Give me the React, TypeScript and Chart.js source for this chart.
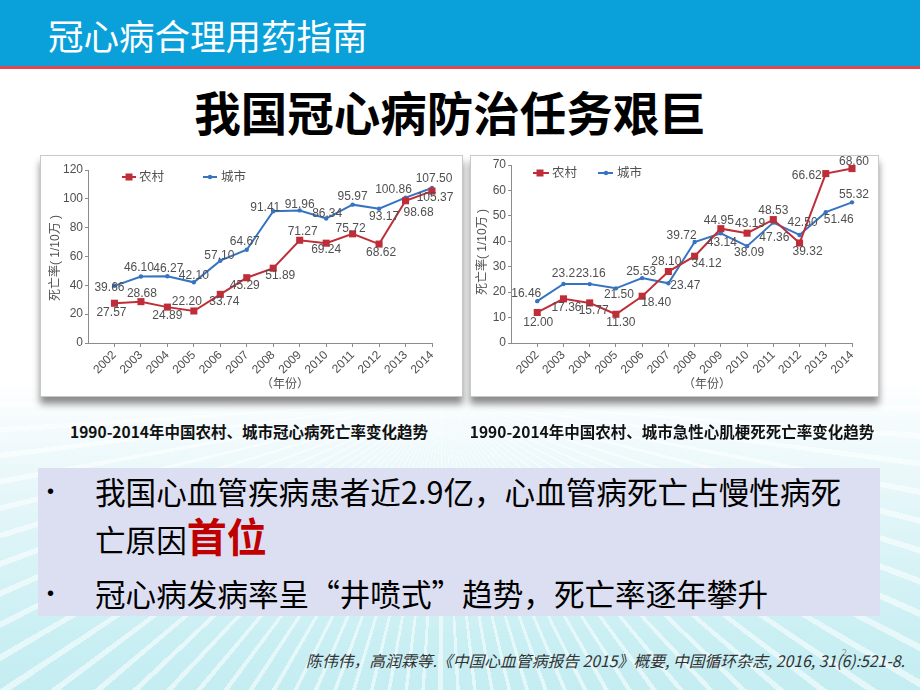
import React, { useEffect, useRef } from "react";
import { Chart, registerables } from "chart.js";

Chart.register(...registerables);

// ---------------- data ----------------
const years = [2002, 2003, 2004, 2005, 2006, 2007, 2008, 2009, 2010, 2011, 2012, 2013, 2014];
const seriesNames = ["农村", "城市"];

// 冠心病死亡率 (1/10万)
const chdRural = ["27.57", "28.68", "24.89", "22.20", "33.74", "45.29", "51.89", "71.27", "69.24", "75.72", "68.62", "98.68", "105.37"];
const chdUrban = ["39.66", "46.10", "46.27", "42.10", "57.10", "64.67", "91.41", "91.96", "86.34", "95.97", "93.17", "100.86", "107.50"];
const chdYTicks = [0, 20, 40, 60, 80, 100, 120];

// 急性心肌梗死死亡率 (1/10万)
const amiRural = ["12.00", "17.36", "15.77", "11.30", "18.40", "28.10", "34.12", "44.95", "43.19", "48.53", "39.32", "66.62", "68.60"];
const amiUrban = ["16.46", "23.2", "23.16", "21.50", "25.53", "23.47", "39.72", "43.14", "38.09", "47.36", "42.50", "51.46", "55.32"];
const amiYTicks = [0, 10, 20, 30, 40, 50, 60, 70];

const yAxisTitle = "死亡率( 1/10万 )";
const xAxisTitle = "（年份）";

const headerTitle = "冠心病合理用药指南";
const slideTitle = "我国冠心病防治任务艰巨";
const caption1 = "1990-2014年中国农村、城市冠心病死亡率变化趋势";
const caption2 = "1990-2014年中国农村、城市急性心肌梗死死亡率变化趋势";
const bullet1a = "我国心血管疾病患者近2.9亿，心血管病死亡占慢性病死";
const bullet1b = "亡原因";
const bullet1c = "首位";
const bullet2 = "冠心病发病率呈“井喷式”趋势，死亡率逐年攀升";
const citation = "陈伟伟，高润霖等.《中国心血管病报告 2015》概要, 中国循环杂志, 2016, 31(6):521-8.";

// data-label placement (dx, dy in px relative to the point)
const chdRuralOff: [number, number][] = [[-3, 9], [1, -8], [0, 9], [-7, -9], [4, 7], [-2, 8], [7, 7], [3, -9], [0, 7], [-2, -5], [2, 9], [13, 12], [3, 7]];
const chdUrbanOff: [number, number][] = [[-5, 2], [-2, -9], [1, -8], [0, -7], [-1, -5], [-2, -8], [-8, -4], [0, -6], [1, -5], [0, -8], [5, 8], [-12, -8], [2, -9]];
const amiRuralOff: [number, number][] = [[1, 10], [3, 9], [4, 8], [5, 8], [14, 6], [-2, -10], [12, 7], [-2, -8], [3, -9], [0, -9], [8, 9], [-19, 2], [2, -7]];
const amiUrbanOff: [number, number][] = [[-11, -7], [0, -10], [1, -10], [3, 6], [-1, -6], [17, 2], [-13, -6], [1, 9], [2, 7], [1, 15], [3, -12], [13, 8], [2, -8]];

// ---------------- styles ----------------
const RED = "#bf2e38";
const BLUE = "#3674c2";
const AXIS = "#8c8c8c";
const TEXT = "#505050";
const FONT = '"Liberation Sans", "Noto Sans CJK SC", sans-serif';
const CJK = '"Noto Sans CJK SC", sans-serif';

type Off = [number, number][];
interface Spec {
  rural: string[];
  urban: string[];
  yTicks: number[];
  ruralOff: Off;
  urbanOff: Off;
  width: number;
  height: number;
  area: { left: number; top: number; right: number; bottom: number };
  legendY: number;
  legend: { x0: number; x1: number; mx: number; tx: number }[];
  yTitle: { x: number; y: number };
  xTitle: { x: number; y: number };
}

const chdSpec: Spec = {
  rural: chdRural,
  urban: chdUrban,
  yTicks: chdYTicks,
  ruralOff: chdRuralOff,
  urbanOff: chdUrbanOff,
  width: 425,
  height: 242,
  area: { left: 48, top: 15, right: 392, bottom: 188 },
  legendY: 22,
  legend: [
    { x0: 82, x1: 96, mx: 89, tx: 99 },
    { x0: 163, x1: 177, mx: 170, tx: 181 },
  ],
  yTitle: { x: 16, y: 103 },
  xTitle: { x: 245, y: 230 },
};

const amiSpec: Spec = {
  rural: amiRural,
  urban: amiUrban,
  yTicks: amiYTicks,
  ruralOff: amiRuralOff,
  urbanOff: amiUrbanOff,
  width: 410,
  height: 242,
  area: { left: 41, top: 10, right: 382, bottom: 188 },
  legendY: 18,
  legend: [
    { x0: 63, x1: 79, mx: 70, tx: 82 },
    { x0: 128, x1: 143, mx: 136, tx: 147 },
  ],
  yTitle: { x: 13, y: 97 },
  xTitle: { x: 237, y: 230 },
};

function overlayPlugin(s: Spec) {
  return {
    id: "overlay",
    afterDatasetsDraw(chart: any) {
      const ctx = chart.ctx as CanvasRenderingContext2D;
      ctx.save();
      ctx.textAlign = "center";
      ctx.textBaseline = "middle";
      ctx.font = `12px ${FONT}`;
      ctx.fillStyle = TEXT;
      const texts = [s.rural, s.urban];
      const offs = [s.ruralOff, s.urbanOff];
      chart.data.datasets.forEach((_: any, di: number) => {
        chart.getDatasetMeta(di).data.forEach((el: any, i: number) => {
          const [dx, dy] = offs[di][i];
          ctx.fillText(texts[di][i], el.x + dx, el.y + dy);
        });
      });
      // legend
      ctx.font = `12.5px ${FONT}`;
      ctx.textAlign = "left";
      s.legend.forEach((it, di) => {
        const col = chart.data.datasets[di].borderColor;
        const y = s.legendY;
        ctx.strokeStyle = col;
        ctx.lineWidth = 2;
        ctx.beginPath();
        ctx.moveTo(it.x0, y);
        ctx.lineTo(it.x1, y);
        ctx.stroke();
        ctx.fillStyle = col;
        if (di === 0) {
          ctx.fillRect(it.mx - 3.5, y - 3.5, 7, 7);
        } else {
          ctx.beginPath();
          ctx.arc(it.mx, y, 2.2, 0, Math.PI * 2);
          ctx.fill();
        }
        ctx.fillStyle = TEXT;
        ctx.fillText(seriesNames[di], it.tx, y + 0.5);
      });
      // axis titles
      ctx.textAlign = "center";
      ctx.font = `12px ${FONT}`;
      ctx.fillText(xAxisTitle, s.xTitle.x, s.xTitle.y);
      ctx.translate(s.yTitle.x, s.yTitle.y);
      ctx.rotate(-Math.PI / 2);
      ctx.fillText(yAxisTitle, 0, 0);
      ctx.restore();
    },
  };
}

function buildConfig(s: Spec): any {
  const yMin = s.yTicks[0];
  const yMax = s.yTicks[s.yTicks.length - 1];
  return {
    type: "line",
    data: {
      datasets: [
        {
          label: seriesNames[0],
          data: years.map((y, i) => ({ x: y, y: Number(s.rural[i]) })),
          borderColor: RED,
          backgroundColor: RED,
          borderWidth: 2,
          pointStyle: "rect",
          pointRadius: 5,
          pointBorderWidth: 0,
          tension: 0,
          clip: false,
        },
        {
          label: seriesNames[1],
          data: years.map((y, i) => ({ x: y, y: Number(s.urban[i]) })),
          borderColor: BLUE,
          backgroundColor: BLUE,
          borderWidth: 2,
          pointStyle: "circle",
          pointRadius: 2.2,
          pointBorderWidth: 0,
          tension: 0,
          clip: false,
        },
      ],
    },
    options: {
      responsive: false,
      animation: false,
      events: [],
      layout: {
        padding: { top: s.area.top, right: s.width - s.area.right, left: 0, bottom: 0 },
      },
      plugins: {
        legend: { display: false },
        tooltip: { enabled: false },
        title: { display: false },
      },
      scales: {
        x: {
          type: "linear",
          min: years[0] - 1,
          max: years[years.length - 1],
          afterBuildTicks: (sc: any) => {
            sc.ticks = years.map((v) => ({ value: v }));
          },
          afterFit: (sc: any) => {
            sc.height = s.height - s.area.bottom;
          },
          border: { display: true, color: AXIS, width: 1 },
          grid: { display: true, drawOnChartArea: false, drawTicks: true, tickLength: 4, color: AXIS },
          ticks: {
            autoSkip: false,
            maxRotation: 45,
            minRotation: 45,
            padding: 1,
            color: TEXT,
            font: { family: FONT, size: 12 },
            callback: (v: any) => String(v),
          },
        },
        y: {
          type: "linear",
          min: yMin,
          max: yMax,
          afterBuildTicks: (sc: any) => {
            sc.ticks = s.yTicks.map((v) => ({ value: v }));
          },
          afterFit: (sc: any) => {
            sc.width = s.area.left;
          },
          border: { display: true, color: AXIS, width: 1 },
          grid: { display: true, drawOnChartArea: false, drawTicks: true, tickLength: 3, color: AXIS },
          ticks: {
            padding: 2,
            color: TEXT,
            font: { family: FONT, size: 12 },
            callback: (v: any) => String(v),
          },
        },
      },
    },
    plugins: [overlayPlugin(s)],
  };
}

function ChartPanel(props: { spec: Spec; left: number; top: number; frameW: number }) {
  const ref = useRef<HTMLCanvasElement | null>(null);
  useEffect(() => {
    if (!ref.current) return;
    const chart = new Chart(ref.current, buildConfig(props.spec));
    return () => chart.destroy();
  }, []);
  const { spec, left, top, frameW } = props;
  return (
    <>
      <div
        style={{
          position: "absolute",
          left,
          top,
          width: frameW,
          height: spec.height - 2,
          background: "#fff",
          border: "1px solid #c9c9c9",
          boxShadow: "0 7px 7px rgba(0,0,0,0.45)",
        }}
      />
      <canvas
        ref={ref}
        width={spec.width}
        height={spec.height}
        style={{ position: "absolute", left, top, width: spec.width, height: spec.height }}
      />
    </>
  );
}

export default function App() {
  const abs = (o: React.CSSProperties): React.CSSProperties => ({ position: "absolute", whiteSpace: "nowrap", ...o });
  return (
    <div
      style={{
        position: "fixed",
        left: 0,
        top: 0,
        width: 920,
        height: 690,
        overflow: "hidden",
        fontFamily: CJK,
        background:
          "linear-gradient(180deg, #ffffff 0px, #ffffff 380px, #f1fafc 440px, #dcf4f7 540px, #c9eff3 640px, #c4edf2 690px)",
      }}
    >
      {/* rays */}
      <div
        style={abs({
          left: 0,
          top: 0,
          width: 920,
          height: 690,
          background:
            "repeating-conic-gradient(from 180deg at 48% 58%, rgba(255,255,255,0.55) 0deg 0.7deg, rgba(255,255,255,0) 0.7deg 3.3deg)",
        })}
      />
      {/* header */}
      <div style={abs({ left: 0, top: 0, width: 920, height: 66, background: "#0aa1db" })} />
      <div style={abs({ left: 0, top: 66, width: 920, height: 3, background: "#e04750" })} />
      <div style={abs({ left: 0, top: 69, width: 920, height: 300, background: "#ffffff" })} />
      <div style={abs({ left: 48, top: 17, fontSize: 35.5, lineHeight: "35.5px", color: "#ffffff" })}>{headerTitle}</div>

      {/* slide title */}
      <div
        style={abs({
          left: 0,
          width: 900,
          top: 88,
          textAlign: "center",
          fontSize: 46.5,
          lineHeight: "46.5px",
          fontWeight: 700,
          color: "#000",
        })}
      >
        {slideTitle}
      </div>

      <ChartPanel spec={chdSpec} left={40} top={155} frameW={421} />
      <ChartPanel spec={amiSpec} left={470} top={155} frameW={407} />

      {/* captions */}
      <div style={abs({ left: 29, width: 440, top: 423, textAlign: "center", fontSize: 15.5, lineHeight: "16px", fontWeight: 700, color: "#111" })}>
        {caption1}
      </div>
      <div style={abs({ left: 452, width: 440, top: 423, textAlign: "center", fontSize: 15.5, lineHeight: "16px", fontWeight: 700, color: "#111" })}>
        {caption2}
      </div>

      {/* bullet box */}
      <div style={abs({ left: 38, top: 468, width: 842, height: 148, background: "#dcdff1" })} />
      <div style={abs({ left: 47, top: 481, fontSize: 20, lineHeight: "20px", fontFamily: '"Liberation Sans", sans-serif', color: "#000" })}>•</div>
      <div style={abs({ left: 95, top: 476, fontSize: 30.6, lineHeight: "30px", color: "#000" })}>{bullet1a}</div>
      <div style={abs({ left: 95, top: 515, fontSize: 30.6, lineHeight: "40px", color: "#000" })}>
        {bullet1b}
        <span style={{ fontSize: 40, fontWeight: 700, color: "#c00000" }}>{bullet1c}</span>
      </div>
      <div style={abs({ left: 47, top: 583, fontSize: 20, lineHeight: "20px", fontFamily: '"Liberation Sans", sans-serif', color: "#000" })}>•</div>
      <div style={abs({ left: 95, top: 578, fontSize: 30.6, lineHeight: "30px", color: "#000" })}>{bullet2}</div>

      {/* page number & citation */}
      <div style={abs({ left: 842, top: 648, fontSize: 9, lineHeight: "9px", color: "#999" })}>2</div>
      <div
        style={abs({
          right: 15,
          top: 653,
          fontSize: 15.8,
          lineHeight: "16px",
          fontStyle: "italic",
          color: "#333",
        })}
      >
        {citation}
      </div>
    </div>
  );
}
